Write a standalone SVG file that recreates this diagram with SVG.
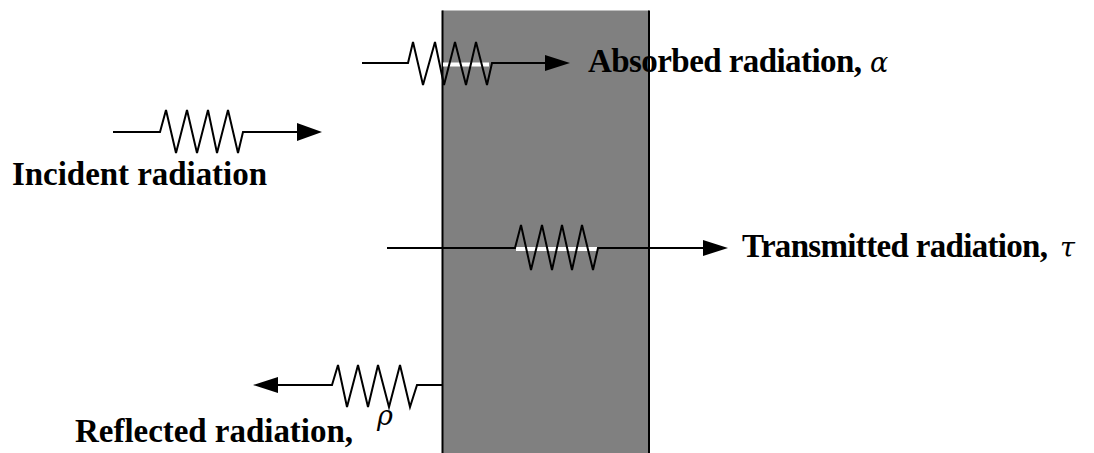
<svg xmlns="http://www.w3.org/2000/svg" width="1094" height="453" viewBox="0 0 1094 453">
<style>
.lbl{font-family:"Liberation Serif","Times New Roman",serif;font-weight:bold;font-size:33px;fill:#000}
.sym{font-family:"DejaVu Serif","Liberation Serif",serif;font-style:italic;font-size:27px;fill:#000}
.w{fill:none;stroke:#000;stroke-width:2;stroke-linejoin:miter}
.wh{stroke:#fff;stroke-width:4;fill:none}
</style>
<rect width="1094" height="453" fill="#fff"/>
<g id="slab">
<rect x="442" y="10.5" width="207" height="443" fill="#808080"/>
<line x1="442.5" y1="10.5" x2="442.5" y2="453" stroke="#000" stroke-width="2"/>
<line x1="649" y1="10.5" x2="649" y2="453" stroke="#000" stroke-width="2"/>
</g>
<g id="connectors">
<g id="incident-ray">
<path class="w" d="M113,132 H160 L166,110 L176,153 L187,110 L197,153 L208,110 L217,153 L228,110 L238,153 L243,132 H298"/>
<polygon points="297,123 322,132 297,141" fill="#000"/>
</g>
<g id="absorbed-ray">
<line class="wh" x1="443" y1="64.5" x2="489" y2="64.5"/>
<path class="w" d="M362,63 H408 L413,42 L423,85 L435,42 L444,85 L455,42 L466,85 L476,42 L487,85 L492,63 H546"/>
<polygon points="545,55 570,63 545,71" fill="#000"/>
</g>
<g id="transmitted-ray">
<line class="wh" x1="516" y1="249" x2="597" y2="249"/>
<path class="w" d="M387,248 H515 L521,225 L531,270 L542,225 L552,270 L562,225 L572,270 L582,225 L593,270 L598,248 H704"/>
<polygon points="703,240 728,248 703,256" fill="#000"/>
</g>
<g id="reflected-ray">
<path class="w" d="M442,385 H417 L410,407 L400,365 L389,407 L378,365 L368,407 L358,365 L347,407 L338,365 L332,385 H277"/>
<polygon points="278,377 253,385 278,393" fill="#000"/>
</g>
</g>
<g id="incident-label"><text class="lbl" x="12" y="185" textLength="255" lengthAdjust="spacing">Incident radiation</text></g>
<g id="absorbed-label"><text class="lbl" x="588" y="72" textLength="274" lengthAdjust="spacing">Absorbed radiation,</text><text class="sym" x="870" y="72">α</text></g>
<g id="transmitted-label"><text class="lbl" x="742" y="257" textLength="306" lengthAdjust="spacing">Transmitted radiation,</text><text class="sym" x="1060" y="257">τ</text></g>
<g id="reflected-label"><text class="lbl" x="75" y="442" textLength="278" lengthAdjust="spacing">Reflected radiation,</text><text class="sym" x="377" y="425">ρ</text></g>
</svg>
